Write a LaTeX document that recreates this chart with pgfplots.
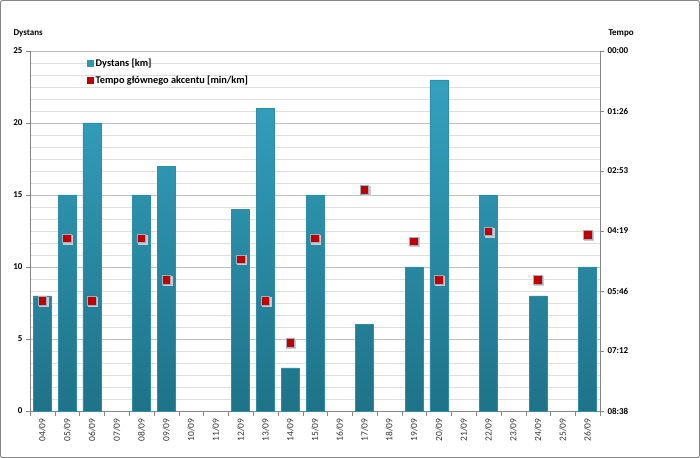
\documentclass[border=0pt]{standalone}
\usepackage{fontspec}
\setmainfont{Carlito}
\usepackage{pgfplots}
\pgfplotsset{compat=1.18}
\definecolor{barTop}{HTML}{34A1BF}
\definecolor{barBot}{HTML}{1E7388}
\definecolor{barEdge}{HTML}{2E8DA8}
\definecolor{mred}{HTML}{C00000}
\definecolor{medge}{HTML}{9DB0BF}
\definecolor{mshadow}{HTML}{C8CCD0}
\definecolor{axgray}{HTML}{868686}
\definecolor{gridc}{HTML}{DEDEDE}
\definecolor{gridmaj}{HTML}{BFBFBF}
\begin{document}
\begin{tikzpicture}[font=\fontsize{9bp}{11bp}\selectfont]
\begin{axis}[
  at={(0,0)}, anchor=south west, scale only axis,
  width=570bp, height=360bp,
  xmin=-0.5, xmax=22.5, ymin=0, ymax=25,
  axis x line*=bottom, axis y line*=left,
  axis line style={draw=axgray},
  xtick={0,...,22},
  xticklabels={04/09,05/09,06/09,07/09,08/09,09/09,10/09,11/09,12/09,13/09,14/09,15/09,16/09,17/09,18/09,19/09,20/09,21/09,22/09,23/09,24/09,25/09,26/09},
  x tick label style={rotate=90, anchor=east, text=black!80, font=\fontsize{9.5bp}{11bp}\selectfont},
  minor xtick={-0.5,0.5,...,22.5},
  major x tick style={draw=none},
  minor x tick style={draw=axgray},
  ytick={0,5,...,25},
  minor ytick={0.83333,1.66667,2.5,3.33333,4.16667,5.83333,6.66667,7.5,8.33333,9.16667,10.83333,11.66667,12.5,13.33333,14.16667,15.83333,16.66667,17.5,18.33333,19.16667,20.83333,21.66667,22.5,23.33333,24.16667},
  minor y tick style={draw=none},
  major y tick style={draw=axgray},
  ymajorgrids, yminorgrids,
  major grid style={draw=gridmaj},
  minor grid style={draw=gridc},
  tick align=outside,
  major tick length=4bp, minor tick length=5bp,
  y tick label style={font=\bfseries\fontsize{9bp}{11bp}\selectfont},
  /pgf/number format/assume math mode=true,
  clip=false,
]
\addplot[ybar, bar width=18bp, draw=barEdge, line width=0.5pt, top color=barTop, bottom color=barBot]
 coordinates {(0,8) (1,15) (2,20) (4,15) (5,17) (8,14) (9,21) (10,3) (11,15) (13,6) (15,10) (16,23) (18,15) (20,8) (22,10)};
\end{axis}
\begin{axis}[
  at={(0,0)}, anchor=south west, scale only axis,
  width=570bp, height=360bp,
  xmin=-0.5, xmax=22.5, ymin=0, ymax=518.4,
  y dir=reverse,
  axis x line=none, axis y line*=right,
  axis line style={draw=axgray},
  ytick={0,86.4,172.8,259.2,345.6,432,518.4},
  yticklabels={00:00,01:26,02:53,04:19,05:46,07:12,08:38},
  y tick label style={font=\bfseries\fontsize{9bp}{11bp}\selectfont},
  ytick style={draw=axgray},
  tick align=outside, major tick length=4bp,
  legend style={at={(0.095,0.99)}, anchor=north west, draw=none, fill=none,
    font=\bfseries\fontsize{10.3bp}{12bp}\selectfont, row sep=4bp,
    legend cell align=left},
  clip=false,
]
\addlegendimage{legend image code/.code={\fill[barTop!75!barBot] (0bp,-3bp) rectangle (6bp,3bp);}}
\addlegendentry{Dystans [km]}
\addlegendimage{legend image code/.code={\fill[mred] (0bp,-3bp) rectangle (6bp,3bp);}}
\addlegendentry{Tempo głównego akcentu [min/km]}
\addplot[forget plot, only marks, color=mshadow, mark=square*, mark size=4.5bp, mark options={fill=mshadow, draw=mshadow, line width=0pt}]
 coordinates {(0.05,361.5) (1.05,271.5) (2.05,361.5) (4.05,271.5) (5.05,331.5) (8.05,301.5) (9.05,361.5) (10.05,421.5) (11.05,271.5) (13.05,201.5) (15.05,275.5) (16.05,331.5) (18.05,261.5) (20.05,331.5) (22.05,266.5)};
\addplot[forget plot, only marks, color=medge, mark=square*, mark size=4.3bp, mark options={fill=mred, draw=medge, line width=0.8pt}]
 coordinates {(0,360) (1,270) (2,360) (4,270) (5,330) (8,300) (9,360) (10,420) (11,270) (13,200) (15,274) (16,330) (18,260) (20,330) (22,265)};
\end{axis}
\node[anchor=west, font=\bfseries\fontsize{9bp}{11bp}\selectfont] at (-20bp,378bp) {Dystans};
\node[anchor=west, font=\bfseries\fontsize{9bp}{11bp}\selectfont] at (575bp,378bp) {Tempo};
\draw[axgray, line width=1bp, rounded corners=2bp] (-29.5bp,-46.5bp) rectangle (669.5bp,410.5bp);
\end{tikzpicture}
\end{document}
